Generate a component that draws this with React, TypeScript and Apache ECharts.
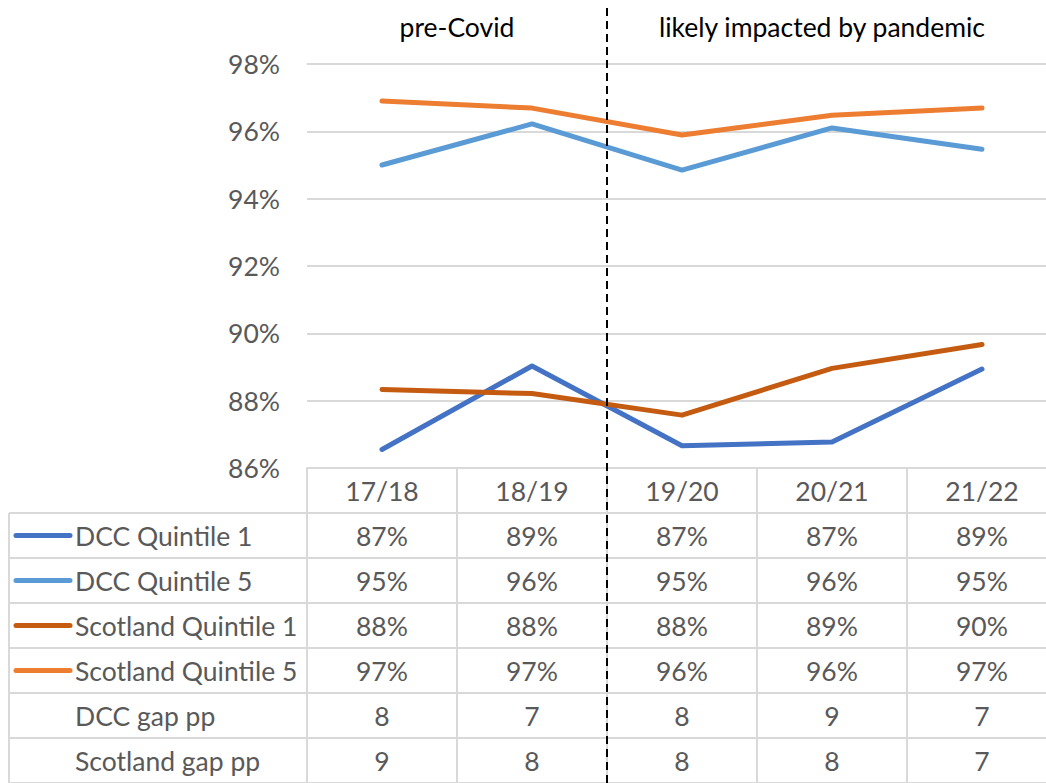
import React, { useEffect, useRef } from "react";
import * as echarts from "echarts";

const categories = ["17/18", "18/19", "19/20", "20/21", "21/22"];
const dccQ1 = [86.55, 89.03, 86.66, 86.77, 88.94];
const dccQ5 = [95.0, 96.22, 94.85, 96.1, 95.47];
const scotQ1 = [88.33, 88.21, 87.57, 88.96, 89.67];
const scotQ5 = [96.9, 96.69, 95.89, 96.48, 96.69];
const dccGap = [8, 7, 8, 9, 7];
const scotGap = [9, 8, 8, 8, 7];
const yTicks = { min: 86, max: 98, interval: 2 };
const periodLabels = ["pre-Covid", "likely impacted by pandemic"];

const FONT = "Lato, 'Liberation Sans', sans-serif";
const FS = 26.5;
const TXT = "#595959";
const BORDER = "#D9D9D9";

const seriesDefs = [
  { name: "DCC Quintile 1", data: dccQ1, color: "#4472C4" },
  { name: "DCC Quintile 5", data: dccQ5, color: "#5B9BD5" },
  { name: "Scotland Quintile 1", data: scotQ1, color: "#C55A11" },
  { name: "Scotland Quintile 5", data: scotQ5, color: "#ED7D31" },
];

export default function App() {
  const ref = useRef<HTMLDivElement>(null);
  useEffect(() => {
    document.body.style.margin = "0";
    document.body.style.overflow = "hidden";
    if (!ref.current) return;
    const chart = echarts.init(ref.current, null, { renderer: "svg" });
    const gridLeft = 307;
    const gridTop = 64;
    const gridHeight = 404;
    const gridWidth = 750;
    chart.setOption({
      animation: false,
      grid: { left: gridLeft, top: gridTop, width: gridWidth, height: gridHeight },
      xAxis: {
        type: "category",
        data: categories,
        boundaryGap: true,
        axisLine: { show: true, lineStyle: { color: BORDER, width: 2 } },
        axisTick: { show: false },
        axisLabel: { show: false },
      },
      yAxis: {
        type: "value",
        min: yTicks.min,
        max: yTicks.max,
        interval: yTicks.interval,
        axisLine: { show: false },
        axisTick: { show: false },
        axisLabel: {
          formatter: "{value}%",
          color: TXT,
          fontSize: FS,
          fontFamily: FONT,
          margin: 27,
        },
        splitLine: { lineStyle: { color: BORDER, width: 2 } },
      },
      series: seriesDefs.map((s) => ({
        type: "line",
        name: s.name,
        data: s.data,
        showSymbol: false,
        symbol: "none",
        lineStyle: { color: s.color, width: 5, cap: "round", join: "round" },
        itemStyle: { color: s.color },
      })),
    });

    const c0 = chart.convertToPixel({ xAxisIndex: 0 }, 0) as number;
    const c1 = chart.convertToPixel({ xAxisIndex: 0 }, 1) as number;
    const colW = c1 - c0;
    const bottomY = chart.convertToPixel({ yAxisIndex: 0 }, yTicks.min) as number;
    const rowH = 45;
    const tableLeft = 9;
    const colLeft = c0 - colW / 2;
    const endX = colLeft + colW * categories.length;
    const g: any[] = [];
    const lineStyle = { stroke: BORDER, lineWidth: 2 };

    for (let r = 1; r <= 7; r++) {
      const y = bottomY + r * rowH;
      g.push({ type: "line", shape: { x1: tableLeft, y1: y, x2: endX, y2: y }, style: lineStyle, silent: true });
    }
    g.push({ type: "line", shape: { x1: tableLeft, y1: bottomY + rowH, x2: tableLeft, y2: bottomY + 8 * rowH }, style: lineStyle });
    for (let i = 0; i <= categories.length; i++) {
      const x = colLeft + i * colW;
      g.push({ type: "line", shape: { x1: x, y1: bottomY, x2: x, y2: bottomY + 8 * rowH }, style: lineStyle });
    }
    const cellText = (text: string, x: number, y: number, align = "center") => ({
      type: "text",
      style: {
        text,
        x,
        y,
        textAlign: align,
        textVerticalAlign: "middle",
        fontSize: FS,
        fontFamily: FONT,
        fill: TXT,
      },
    });
    categories.forEach((c, i) => {
      const x = chart.convertToPixel({ xAxisIndex: 0 }, i) as number;
      g.push(cellText(c, x, bottomY + rowH / 2));
    });
    const rows: { name: string; vals: string[]; color?: string }[] = [
      ...seriesDefs.map((s) => ({ name: s.name, vals: s.data.map((v) => Math.round(v) + "%"), color: s.color })),
      { name: "DCC gap pp", vals: dccGap.map(String) },
      { name: "Scotland gap pp", vals: scotGap.map(String) },
    ];
    rows.forEach((row, r) => {
      const y = bottomY + (r + 1.5) * rowH;
      if (row.color) {
        g.push({
          type: "line",
          shape: { x1: 16, y1: y, x2: 70, y2: y },
          style: { stroke: row.color, lineWidth: 5, lineCap: "round" },
        });
      }
      g.push(cellText(row.name, 75, y, "left"));
      row.vals.forEach((v, i) => {
        const x = chart.convertToPixel({ xAxisIndex: 0 }, i) as number;
        g.push(cellText(v, x, y));
      });
    });
    const divX = colLeft + 2 * colW;
    g.push({
      type: "line",
      shape: { x1: divX, y1: 8, x2: divX, y2: 783 },
      style: { stroke: "#000", lineWidth: 2, lineDash: [8, 5] },
      z: 100,
    });
    g.push({
      type: "text",
      style: { text: periodLabels[0], x: colLeft + colW, y: 27, textAlign: "center", textVerticalAlign: "middle", fontSize: FS, fontFamily: FONT, fill: "#000" },
    });
    g.push({
      type: "text",
      style: { text: periodLabels[1], x: 822, y: 27, textAlign: "center", textVerticalAlign: "middle", fontSize: FS, fontFamily: FONT, fill: "#000" },
    });
    chart.setOption({ graphic: g });
    return () => chart.dispose();
  }, []);
  return <div ref={ref} style={{ width: 1060, height: 783 }} />;
}
